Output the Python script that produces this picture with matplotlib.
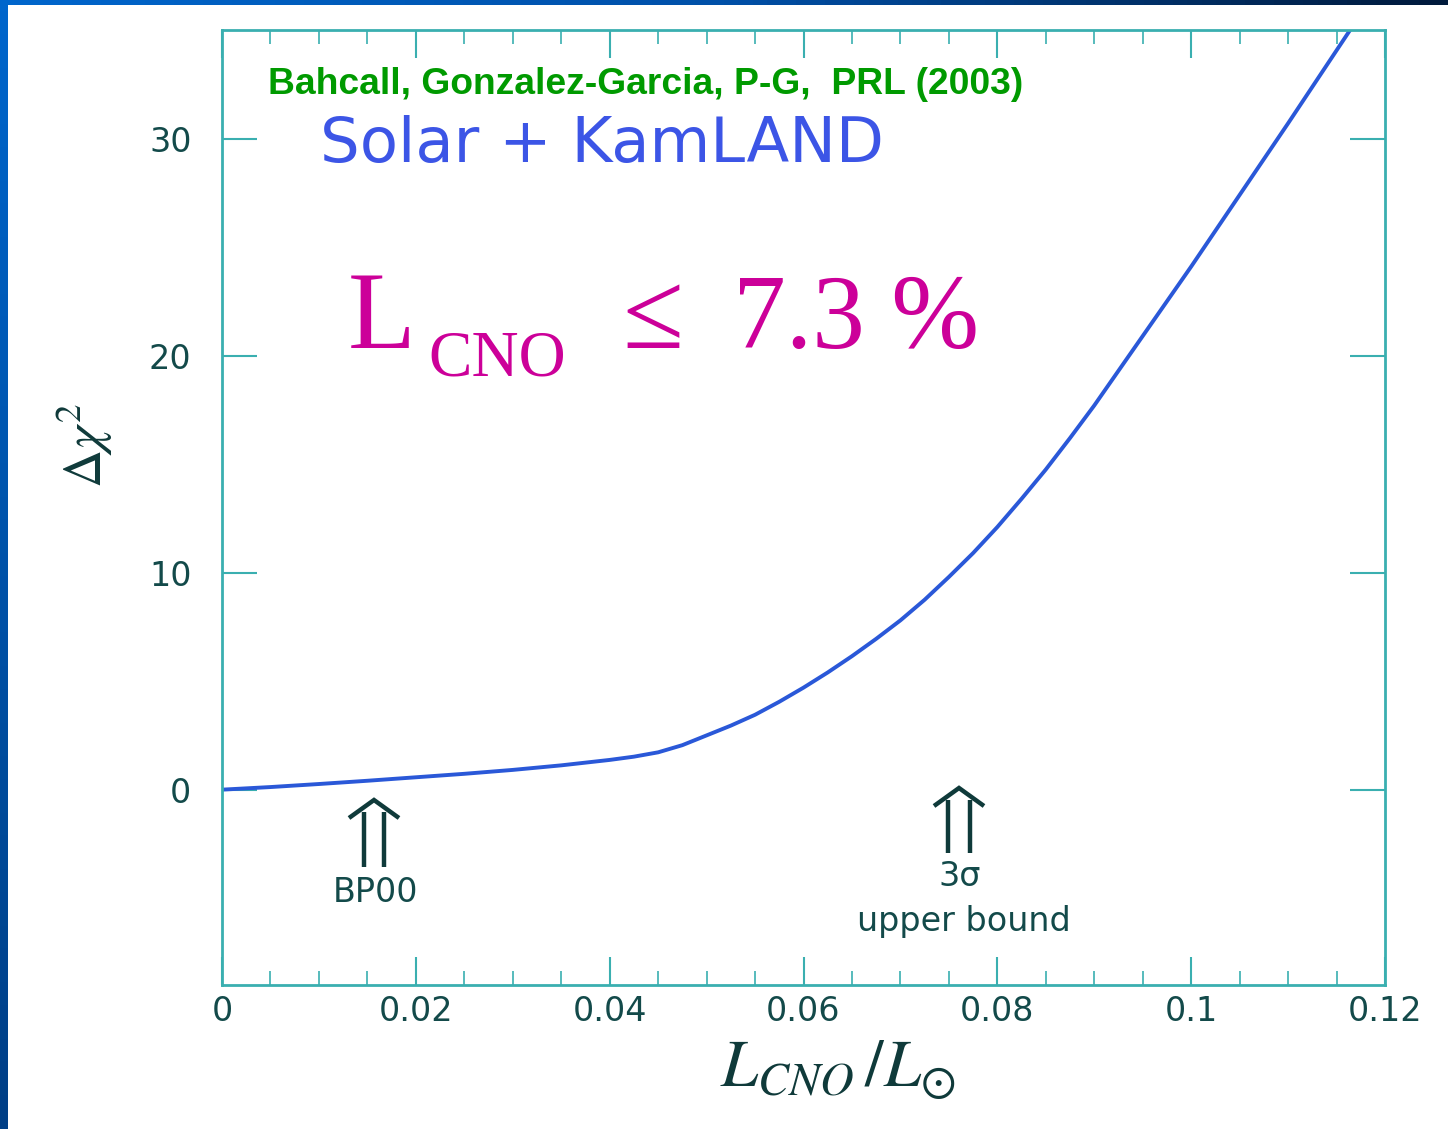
import numpy as np
import matplotlib
matplotlib.use('Agg')
import matplotlib.pyplot as plt
from matplotlib.lines import Line2D
from matplotlib.ticker import MultipleLocator

# данные кривой
l_cno = [0.0, 0.005, 0.010, 0.015, 0.020, 0.025, 0.030, 0.035, 0.040, 0.0425,
         0.045, 0.0475, 0.050, 0.0525, 0.055, 0.0575, 0.060, 0.0625, 0.065, 0.0675,
         0.070, 0.0725, 0.075, 0.0775, 0.080, 0.0825, 0.085, 0.0875, 0.090,
         0.095, 0.100, 0.105, 0.110, 0.1164]
dchi2 = [0.0, 0.12, 0.26, 0.41, 0.57, 0.73, 0.91, 1.12, 1.37, 1.52,
         1.72, 2.05, 2.5, 2.95, 3.45, 4.05, 4.7, 5.4, 6.15, 6.95,
         7.8, 8.75, 9.8, 10.9, 12.1, 13.4, 14.75, 16.2, 17.7,
         20.9, 24.1, 27.4, 30.7, 35.0]

x_ticks = [0, 0.02, 0.04, 0.06, 0.08, 0.1, 0.12]
x_labels = ['0', '0.02', '0.04', '0.06', '0.08', '0.1', '0.12']
y_ticks = [0, 10, 20, 30]

W, H = 1448, 1129
def fx(px):
    return px / W
def fy(py):
    return 1 - py / H

plt.rcParams['mathtext.fontset'] = 'stix'

fig = plt.figure(figsize=(W / 100, H / 100), dpi=100)
fig.patch.set_facecolor('white')

# синяя рамка слева и сверху
left_bar = fig.add_axes([0, 0, fx(8), 1])
left_bar.imshow(np.linspace(0, 1, 100).reshape(-1, 1), aspect='auto',
                cmap=matplotlib.colors.LinearSegmentedColormap.from_list('lb', ['#0066cc', '#003f86']))
left_bar.axis('off')
top_bar = fig.add_axes([0, fy(5), 1, 5 / H])
top_bar.imshow(np.linspace(0, 1, 100).reshape(1, -1), aspect='auto',
               cmap=matplotlib.colors.LinearSegmentedColormap.from_list('tb', ['#0066cc', '#0050a8', '#001a3c']))
top_bar.axis('off')

ax = fig.add_axes([fx(222), fy(985), fx(1385) - fx(222), fy(30) - fy(985)])
axis_col = '#3aafb0'
lab_col = '#134a4a'

ax.plot(l_cno, dchi2, color='#2a58d8', lw=2.8, solid_joinstyle='round')

ax.set_xlim(0, 0.12)
ax.set_ylim(-9, 35)
ax.set_xticks(x_ticks)
ax.set_xticklabels(x_labels)
ax.set_yticks(y_ticks)
ax.xaxis.set_minor_locator(MultipleLocator(0.005))

for s in ax.spines.values():
    s.set_color(axis_col)
    s.set_linewidth(2)
ax.tick_params(axis='x', which='major', direction='in', length=20, width=1.5,
               color=axis_col, top=True, labelsize=24, labelcolor=lab_col, pad=7)
ax.tick_params(axis='x', which='minor', direction='in', length=10, width=1.2,
               color=axis_col, top=True)
ax.tick_params(axis='y', which='major', direction='in', length=25, width=1.5,
               color=axis_col, right=True, labelsize=24, labelcolor=lab_col, pad=22)

# подписи осей
fig.text(fx(85), fy(445), r'$\Delta\chi^2$', rotation=90, fontsize=38,
         color='#0f3a3a', ha='center', va='center')
fig.text(fx(838), fy(1068), r'$L_{CNO}\,/L_{\odot}$', fontsize=48,
         color='#0f3a3a', ha='center', va='center')

# надписи
fig.text(fx(268), fy(94), 'Bahcall, Gonzalez-Garcia, P-G,  PRL (2003)',
         family='Liberation Sans', weight='bold', fontsize=26.8, color='#009a00',
         ha='left', va='baseline')
fig.text(fx(320), fy(162), 'Solar + KamLAND', family='DejaVu Sans',
         fontsize=45, color='#3c55e6', ha='left', va='baseline')

mag = '#cc0099'
fig.text(fx(348), fy(348), 'L', family='Liberation Serif', fontsize=80,
         color=mag, ha='left', va='baseline')
fig.text(fx(428), fy(375), 'CNO', family='Liberation Serif', fontsize=47,
         color=mag, ha='left', va='baseline')
fig.text(fx(622), fy(348), '\u2264', family='Liberation Serif', fontsize=80,
         color=mag, ha='left', va='baseline')
fig.text(fx(733), fy(348), '7.3 %', family='Liberation Serif', fontsize=76,
         color=mag, ha='left', va='baseline')

# двойные стрелки вверх
arr_col = '#0f3a3a'
def double_arrow(cx, tip, bottom, half_gap=10, half_head=25, head_h=18):
    kw = dict(transform=fig.transFigure, color=arr_col, lw=3.2,
              solid_capstyle='butt', solid_joinstyle='miter')
    for dx in (-half_gap, half_gap):
        fig.add_artist(Line2D([fx(cx + dx)] * 2, [fy(tip + 12), fy(bottom)], **kw))
    fig.add_artist(Line2D([fx(cx - half_head), fx(cx), fx(cx + half_head)],
                          [fy(tip + head_h), fy(tip), fy(tip + head_h)], **kw))

double_arrow(374, 800, 867)
double_arrow(959, 788, 853, half_gap=11)

fig.text(fx(376), fy(892), 'BP00', family='DejaVu Sans', fontsize=24,
         color=lab_col, ha='center', va='center')
fig.text(fx(960), fy(877), '3\u03c3', family='DejaVu Sans', fontsize=24,
         color=lab_col, ha='center', va='center')
fig.text(fx(964), fy(921), 'upper bound', family='DejaVu Sans', fontsize=24,
         color=lab_col, ha='center', va='center')

fig.savefig('out.png', dpi=100)
